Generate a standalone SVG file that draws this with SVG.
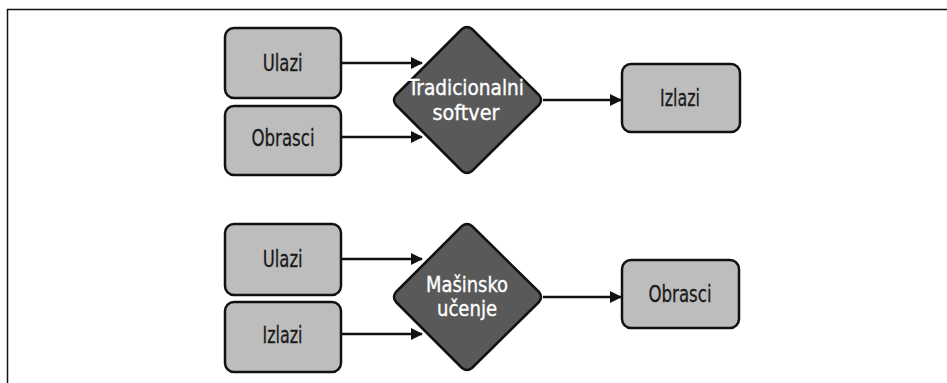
<svg xmlns="http://www.w3.org/2000/svg" width="947" height="383" viewBox="0 0 947 383">
<style>
.box{fill:#bdbdbd;stroke:#111;stroke-width:2.5}
.dia{fill:#595959;stroke:#111;stroke-width:2.5;stroke-linejoin:round}
.t{font-family:"DejaVu Sans Condensed","DejaVu Sans",sans-serif;font-stretch:condensed;font-size:23px;text-anchor:middle;fill:#1a1a1a;stroke:#1a1a1a;stroke-width:0.3}
.tw{font-family:"DejaVu Sans Condensed","DejaVu Sans",sans-serif;font-stretch:condensed;font-size:22px;text-anchor:middle;fill:#fff;stroke:#fff;stroke-width:0.35}
.c{stroke:#111;stroke-width:2.5;fill:none;marker-end:url(#ah)}
</style>
<defs>
<marker id="ah" markerWidth="12" markerHeight="12" refX="11" refY="6" orient="auto" markerUnits="userSpaceOnUse">
<path d="M0,0 L12,6 L0,12 Z" fill="#111"/>
</marker>
</defs>
<rect width="947" height="383" fill="#fff"/>
<path d="M7.5,383 V9.5 H947" fill="none" stroke="#111" stroke-width="1.5"/>
<g id="connectors">
<line class="c" x1="341" y1="63" x2="422" y2="63"/>
<line class="c" x1="341" y1="137" x2="422" y2="137"/>
<line class="c" x1="543" y1="100" x2="621" y2="100"/>
<line class="c" x1="341" y1="259" x2="422" y2="259"/>
<line class="c" x1="341" y1="334" x2="422" y2="334"/>
<line class="c" x1="543" y1="297" x2="621" y2="297"/>
</g>
<g id="ulazi1"><rect class="box" x="225" y="28" width="116" height="70" rx="9"/><text class="t" x="282.7" y="70.5" textLength="40" lengthAdjust="spacingAndGlyphs">Ulazi</text></g>
<g id="obrasci1"><rect class="box" x="225" y="106" width="116" height="69" rx="9"/><text class="t" x="283" y="146" textLength="63" lengthAdjust="spacingAndGlyphs">Obrasci</text></g>
<g id="tradicionalni"><path class="dia" d="M462,29 Q467,25 472,29 L539,95 Q543,100 539,105 L472,171 Q467,175 462,171 L396,105 Q392,100 396,95 Z"/><text class="tw" x="466" y="95" textLength="116" lengthAdjust="spacingAndGlyphs">Tradicionalni</text><text class="tw" x="466" y="120" textLength="67" lengthAdjust="spacingAndGlyphs">softver</text></g>
<g id="izlazi1"><rect class="box" x="622" y="64" width="118" height="68" rx="9"/><text class="t" x="680" y="106" textLength="40" lengthAdjust="spacingAndGlyphs">Izlazi</text></g>
<g id="ulazi2"><rect class="box" x="225" y="224" width="116" height="71" rx="9"/><text class="t" x="282.7" y="267" textLength="40" lengthAdjust="spacingAndGlyphs">Ulazi</text></g>
<g id="izlazi2"><rect class="box" x="225" y="302" width="116" height="70" rx="9"/><text class="t" x="282.5" y="343" textLength="40" lengthAdjust="spacingAndGlyphs">Izlazi</text></g>
<g id="masinsko"><path class="dia" d="M462,226 Q467,222 472,226 L539,292 Q543,297 539,302 L472,368 Q467,372 462,368 L396,302 Q392,297 396,292 Z"/><text class="tw" x="467" y="292" textLength="82" lengthAdjust="spacingAndGlyphs">Mašinsko</text><text class="tw" x="467" y="316" textLength="60" lengthAdjust="spacingAndGlyphs">učenje</text></g>
<g id="obrasci2"><rect class="box" x="622" y="260" width="117" height="68" rx="9"/><text class="t" x="680" y="302" textLength="63" lengthAdjust="spacingAndGlyphs">Obrasci</text></g>
</svg>
